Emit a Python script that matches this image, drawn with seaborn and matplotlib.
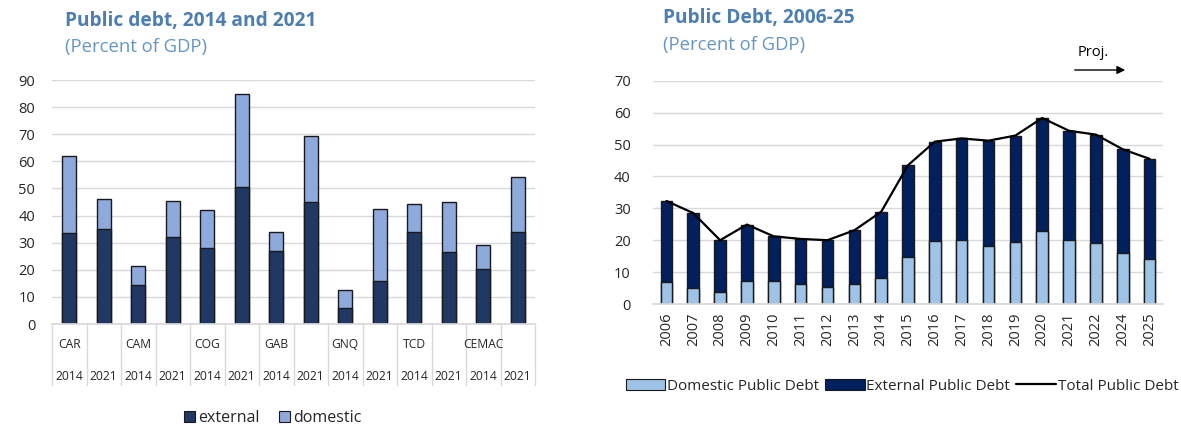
import matplotlib
matplotlib.use("Agg")
import matplotlib.pyplot as plt
import matplotlib.transforms as mtransforms
from matplotlib.patches import Patch
from matplotlib.lines import Line2D
import numpy as np
import pandas as pd
import seaborn as sns

# ---------------- data ----------------
countries = ["CAR", "CAM", "COG", "GAB", "GNQ", "TCD", "CEMAC"]
years_left = ["2014", "2021"]
external_left = [33.6, 35.1, 14.4, 32.0, 28.0, 50.6, 27.0, 45.1, 5.9, 16.0, 34.0, 26.5, 20.4, 34.0]
domestic_left = [28.5, 10.9, 7.0, 13.5, 14.1, 34.4, 7.0, 24.2, 6.5, 26.6, 10.1, 18.6, 8.6, 20.2]

years_right = ["2006", "2007", "2008", "2009", "2010", "2011", "2012", "2013", "2014", "2015",
               "2016", "2017", "2018", "2019", "2020", "2021", "2022", "2024", "2025"]
domestic_right = [6.9, 4.9, 3.9, 7.3, 7.3, 6.3, 5.4, 6.3, 8.2, 14.8,
                  19.8, 20.2, 18.3, 19.5, 22.9, 20.2, 19.2, 16.1, 14.0]
total_right = [32.3, 28.5, 20.0, 24.9, 21.2, 20.4, 20.0, 23.1, 28.9, 43.5,
               50.9, 51.9, 51.2, 52.8, 58.3, 54.3, 53.1, 48.5, 45.5]

# ---------------- style ----------------
sns.set_theme(style="white")
plt.rcParams['font.family'] = ['Open Sans', 'DejaVu Sans']

EXT_L = "#1F3864"
DOM_L = "#8EA9DB"
EXT_R = "#002060"
DOM_R = "#9DC3E6"
GRID = "#D9D9D9"
TITLE = "#4A7EB5"
SUB = "#6396C9"
TXT = "#262626"

fig = plt.figure(figsize=(11.81, 4.26), dpi=100)
W, H = 1181, 426

def fx(px):
    return px / W

def fy(py):
    return 1 - py / H

axL = fig.add_axes([fx(52), fy(324), fx(535) - fx(52), fy(80) - fy(324)])
axR = fig.add_axes([fx(653), fy(304), fx(1163) - fx(653), fy(80.7) - fy(304)])

# ---------------- left chart ----------------
keys = [f"{c} {y}" for c in countries for y in years_left]
dfL = pd.DataFrame({"key": keys, "external": external_left, "domestic": domestic_left})
dfL["total"] = dfL["external"] + dfL["domestic"]

common = dict(edgecolor="#1a1a1a", linewidth=1.0, width=0.42, saturation=1, order=keys)
sns.barplot(data=dfL, x="key", y="total", color=DOM_L, ax=axL, **common)
sns.barplot(data=dfL, x="key", y="external", color=EXT_L, ax=axL, **common)

axL.set_ylim(0, 90)
axL.set_xlim(-0.5, len(keys) - 0.5)
axL.set_yticks(range(0, 91, 10))
axL.yaxis.grid(True, color=GRID, lw=1)
axL.set_axisbelow(True)
axL.set_xlabel("")
axL.set_ylabel("")
for s in ["left", "right", "top"]:
    axL.spines[s].set_visible(False)
axL.spines["bottom"].set_color(GRID)
axL.tick_params(axis="y", length=0, pad=12, labelsize=10.5, labelcolor=TXT)
axL.set_xticks([])

trans = mtransforms.blended_transform_factory(axL.transData, axL.transAxes)
n = len(keys)
for i in range(n + 1):
    axL.plot([i - 0.5, i - 0.5], [0, -61 / 244], transform=trans, color=GRID, lw=1, clip_on=False)
for i, k in enumerate(keys):
    axL.text(i, -53 / 244, years_left[i % 2], transform=trans, ha="center", va="center",
             fontsize=8.7, color=TXT)
for j, c in enumerate(countries):
    axL.text(2 * j, -21 / 244, c, transform=trans, ha="center", va="center",
             fontsize=8.7, color=TXT)

fig.legend(handles=[Patch(facecolor=EXT_L, edgecolor="#1a1a1a", lw=0.8, label="external"),
                    Patch(facecolor=DOM_L, edgecolor="#1a1a1a", lw=0.8, label="domestic")],
           loc="center", bbox_to_anchor=(fx(273), fy(418)), ncol=2, frameon=False,
           handlelength=0.7, handleheight=0.7, handletextpad=0.2, columnspacing=1.2,
           fontsize=11.5, labelcolor=TXT)

fig.text(fx(65), fy(21), "Public debt, 2014 and 2021", fontsize=13.8, fontweight="bold",
         color=TITLE, va="center", ha="left")
fig.text(fx(65), fy(47), "(Percent of GDP)", fontsize=13.3, color=SUB, va="center", ha="left")

# ---------------- right chart ----------------
dfR = pd.DataFrame({"year": years_right, "domestic": domestic_right, "total": total_right})
dfR["external"] = dfR["total"] - dfR["domestic"]

commonR = dict(edgecolor="#1a1a1a", linewidth=1.0, width=0.43, saturation=1, order=years_right)
sns.barplot(data=dfR, x="year", y="total", color=EXT_R, ax=axR, **commonR)
sns.barplot(data=dfR, x="year", y="domestic", color=DOM_R, ax=axR, **commonR)
sns.lineplot(x=np.arange(len(years_right)), y=dfR["total"].values, color="black", lw=1.6, ax=axR)

axR.set_ylim(0, 70)
axR.set_xlim(-0.5, len(years_right) - 0.5)
axR.set_yticks(range(0, 71, 10))
axR.yaxis.grid(True, color=GRID, lw=1)
axR.set_axisbelow(True)
axR.set_xlabel("")
axR.set_ylabel("")
for s in ["left", "right", "top"]:
    axR.spines[s].set_visible(False)
axR.spines["bottom"].set_color(GRID)
axR.set_xticks(range(len(years_right)))
axR.set_xticklabels(years_right, rotation=90)
axR.tick_params(axis="y", length=0, pad=16, labelsize=10.5, labelcolor=TXT)
axR.tick_params(axis="x", length=0, pad=6, labelsize=10.5, labelcolor=TXT)
if axR.get_legend() is not None:
    axR.get_legend().remove()

fig.legend(handles=[Patch(facecolor=DOM_R, edgecolor="#1a1a1a", lw=0.8, label="Domestic Public Debt"),
                    Patch(facecolor=EXT_R, edgecolor="#1a1a1a", lw=0.8, label="External Public Debt"),
                    Line2D([], [], color="black", lw=1.6, label="Total Public Debt")],
           loc="center", bbox_to_anchor=(fx(902), fy(386)), ncol=3, frameon=False,
           handlelength=2.6, handleheight=0.7, handletextpad=0.1, columnspacing=0.4,
           fontsize=11, labelcolor=TXT)

fig.text(fx(663), fy(18), "Public Debt, 2006-25", fontsize=13.8, fontweight="bold",
         color=TITLE, va="center", ha="left")
fig.text(fx(663), fy(45), "(Percent of GDP)", fontsize=13.3, color=SUB, va="center", ha="left")

fig.text(fx(1078), fy(52), "Proj.", fontsize=10.5, color="black", va="center", ha="left")
axR.annotate("", xy=(fx(1128), fy(70)), xytext=(fx(1072), fy(70)), xycoords="figure fraction",
             textcoords="figure fraction",
             arrowprops=dict(arrowstyle="-|>", color="black", lw=1, mutation_scale=12))

fig.savefig("out.png", dpi=100)
